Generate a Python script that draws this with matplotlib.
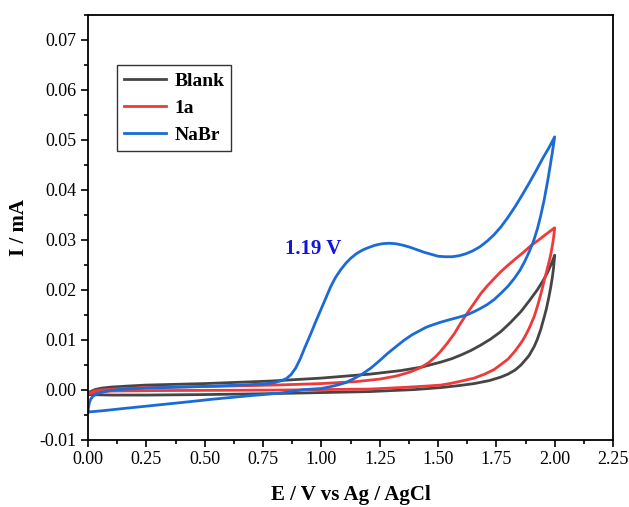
import matplotlib
matplotlib.use('Agg')
import matplotlib.pyplot as plt
from matplotlib.ticker import MultipleLocator, FormatStrFormatter

plt.rcParams['font.family'] = ['Liberation Serif', 'DejaVu Serif']
plt.rcParams['axes.unicode_minus'] = False

# Blank: upper branch 0 -> 2 V, lower branch 2 -> 0 V
blank_up_E = [0.0, 0.01, 0.03, 0.06, 0.10, 0.17, 0.25, 0.50, 0.78, 1.00, 1.21, 1.34, 1.43,
              1.512, 1.56, 1.597, 1.64, 1.683, 1.725, 1.769, 1.81, 1.855, 1.89, 1.926, 1.95,
              1.969, 1.985, 2.0]
blank_up_I = [-0.0009, -0.0004, 0.0000, 0.0003, 0.0005, 0.0007, 0.0009, 0.0012, 0.0017, 0.0023,
              0.0031, 0.0038, 0.0045, 0.0055, 0.0062, 0.0069, 0.0078, 0.0089, 0.0101, 0.0116,
              0.0134, 0.0156, 0.0177, 0.0200, 0.0218, 0.0234, 0.0251, 0.0269]
blank_dn_E = [2.0, 1.995, 1.99, 1.983, 1.975, 1.965, 1.955, 1.94, 1.925, 1.912, 1.89, 1.87,
              1.855, 1.83, 1.80, 1.769, 1.72, 1.655, 1.59, 1.512, 1.40, 1.30, 1.21, 1.0, 0.80,
              0.50, 0.25, 0.10, 0.0]
blank_dn_I = [0.0269, 0.0243, 0.0225, 0.0205, 0.0185, 0.0163, 0.0145, 0.0120, 0.0100, 0.0086,
              0.0068, 0.0057, 0.0049, 0.0039, 0.0031, 0.0025, 0.0018, 0.0012, 0.0008, 0.0004,
              0.0000, -0.0002, -0.0004, -0.0006, -0.0008, -0.0010, -0.0011, -0.0011, -0.0010]

# 1a
red_up_E = [0.0, 0.01, 0.025, 0.05, 0.11, 0.25, 0.50, 0.80, 1.00, 1.15, 1.25, 1.32, 1.38,
            1.426, 1.46, 1.49, 1.512, 1.54, 1.57, 1.597, 1.625, 1.655, 1.683, 1.71, 1.74,
            1.769, 1.80, 1.83, 1.869, 1.90, 1.93, 1.96, 1.98, 2.0]
red_up_I = [-0.0009, -0.0006, -0.0003, -0.0001, 0.0001, 0.0004, 0.0006, 0.0009, 0.0012, 0.0016,
            0.0021, 0.0027, 0.0035, 0.0044, 0.0054, 0.0066, 0.0077, 0.0093, 0.0112, 0.0133,
            0.0153, 0.0173, 0.0192, 0.0207, 0.0222, 0.0236, 0.0249, 0.0261, 0.0276, 0.0289,
            0.0299, 0.0310, 0.0317, 0.0324]
red_dn_E = [2.0, 1.995, 1.99, 1.983, 1.97, 1.955, 1.94, 1.925, 1.912, 1.89, 1.87, 1.855, 1.83,
            1.80, 1.769, 1.74, 1.70, 1.655, 1.60, 1.55, 1.512, 1.45, 1.34, 1.21, 1.0, 0.80,
            0.30, 0.10, 0.04, 0.0]
red_dn_I = [0.0324, 0.0303, 0.0288, 0.0270, 0.0245, 0.0218, 0.0190, 0.0165, 0.0146, 0.0122,
            0.0104, 0.0093, 0.0077, 0.0061, 0.0050, 0.0040, 0.0031, 0.0023, 0.0017, 0.0012,
            0.0009, 0.0007, 0.0004, 0.0001, 0.0000, -0.0001, -0.0002, -0.0003, -0.0005, -0.0009]

# NaBr
blue_up_E = [0.0, 0.002, 0.006, 0.012, 0.02, 0.035, 0.055, 0.08, 0.11, 0.16, 0.25, 0.40,
             0.54, 0.65, 0.75, 0.80, 0.83, 0.85, 0.87, 0.89, 0.91, 0.93, 0.955, 0.975, 0.997,
             1.02, 1.04, 1.06, 1.083, 1.105, 1.126, 1.15, 1.175, 1.20, 1.23, 1.26, 1.29, 1.32,
             1.35, 1.38, 1.41, 1.44, 1.47, 1.50, 1.53, 1.56, 1.59, 1.62, 1.65, 1.68, 1.71,
             1.74, 1.77, 1.80, 1.83, 1.86, 1.89, 1.92, 1.95, 1.975, 2.0]
blue_up_I = [-0.0045, -0.0036, -0.0026, -0.0019, -0.0014, -0.0009, -0.0006, -0.0003, -0.0001,
             0.0001, 0.0003, 0.0005, 0.0007, 0.0009, 0.0011, 0.0014, 0.0018, 0.0022, 0.0030,
             0.0043, 0.0062, 0.0085, 0.0112, 0.0135, 0.0159, 0.0184, 0.0206, 0.0224, 0.0240,
             0.0253, 0.0263, 0.0272, 0.0279, 0.0284, 0.0289, 0.0292, 0.0293, 0.0292, 0.0289,
             0.0285, 0.0280, 0.0275, 0.0271, 0.0267, 0.0266, 0.0266, 0.0268, 0.0272, 0.0278,
             0.0286, 0.0297, 0.0310, 0.0326, 0.0345, 0.0366, 0.0389, 0.0413, 0.0438, 0.0464,
             0.0484, 0.0506]
blue_dn_E = [2.0, 1.99, 1.98, 1.97, 1.955, 1.94, 1.926, 1.91, 1.89, 1.87, 1.85, 1.826, 1.80,
             1.77, 1.74, 1.71, 1.68, 1.65, 1.626, 1.59, 1.55, 1.512, 1.48, 1.45, 1.426, 1.39,
             1.355, 1.32, 1.283, 1.25, 1.212, 1.175, 1.14, 1.105, 1.069, 1.03, 0.997, 0.96,
             0.926, 0.826, 0.70, 0.54, 0.40, 0.254, 0.15, 0.07, 0.0]
blue_dn_I = [0.0506, 0.0475, 0.0446, 0.0418, 0.0380, 0.0348, 0.0322, 0.0298, 0.0275, 0.0255,
             0.0238, 0.0222, 0.0207, 0.0193, 0.0180, 0.0170, 0.0162, 0.0155, 0.0150, 0.0145,
             0.0140, 0.0135, 0.0130, 0.0125, 0.0119, 0.0110, 0.0099, 0.0086, 0.0072, 0.0058,
             0.0043, 0.0031, 0.0022, 0.0014, 0.0009, 0.0005, 0.0002, 0.0001, 0.0000, -0.0007,
             -0.0012, -0.0019, -0.0026, -0.0033, -0.0038, -0.0042, -0.0045]

labels = ['Blank', '1a', 'NaBr']
colors = ['#454545', '#ee3a3a', '#1a6bd8']

fig = plt.figure(figsize=(6.29, 5.07), dpi=100)
ax = fig.add_axes([0.1399, 0.1331, 0.8347, 0.8373])

curves = [
    (blank_up_E + blank_dn_E, blank_up_I + blank_dn_I),
    (red_up_E + red_dn_E, red_up_I + red_dn_I),
    (blue_up_E + blue_dn_E, blue_up_I + blue_dn_I),
]
for (E, I), lab, c in zip(curves, labels, colors):
    ax.plot(E, I, color=c, lw=2.0, label=lab, solid_joinstyle='round')

ax.text(0.965, 0.0281, '1.19 V', color='#1414e0', fontsize=15, fontweight='bold',
        ha='center', va='center')

ax.set_xlim(0, 2.25)
ax.set_ylim(-0.01, 0.075)
ax.xaxis.set_major_locator(MultipleLocator(0.25))
ax.xaxis.set_minor_locator(MultipleLocator(0.125))
ax.yaxis.set_major_locator(MultipleLocator(0.01))
ax.yaxis.set_minor_locator(MultipleLocator(0.005))
ax.xaxis.set_major_formatter(FormatStrFormatter('%.2f'))
ax.yaxis.set_major_formatter(FormatStrFormatter('%.2f'))

ax.tick_params(which='both', direction='out', top=False, right=False, width=1.2,
               labelsize=13, colors='black')
ax.tick_params(which='major', length=5)
ax.tick_params(which='minor', length=3)
for sp in ax.spines.values():
    sp.set_linewidth(1.3)

ax.set_xlabel('E / V vs Ag / AgCl', fontsize=15, fontweight='bold', labelpad=12)
ax.set_ylabel('I / mA', fontsize=15, fontweight='bold', labelpad=7)

leg = ax.legend(loc='upper left', bbox_to_anchor=(0.055, 0.882), frameon=True, fancybox=False,
                prop={'weight': 'bold', 'size': 14}, handlelength=2.2, handletextpad=0.4,
                borderpad=0.35, labelspacing=0.5, borderaxespad=0)
leg.get_frame().set_edgecolor('black')
leg.get_frame().set_linewidth(1.0)

fig.savefig('out.png', dpi=100)
